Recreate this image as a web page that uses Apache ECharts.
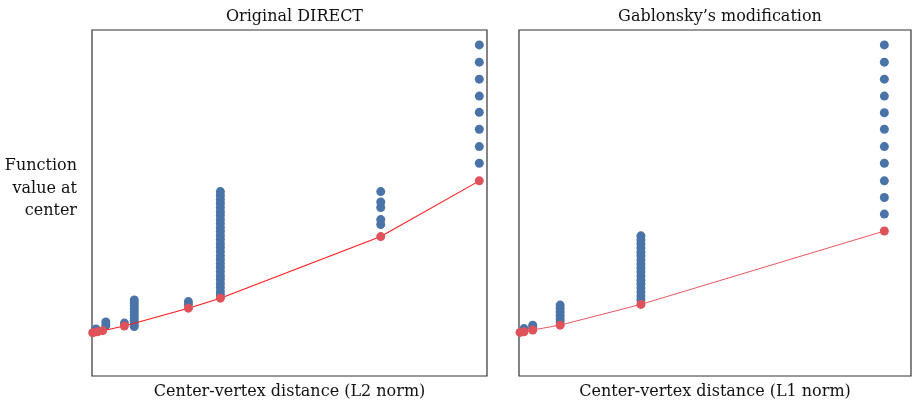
<!DOCTYPE html>
<html>
<head>
<meta charset="utf-8">
<script src="https://cdn.jsdelivr.net/npm/echarts@6/dist/echarts.min.js"></script>
<style>html,body{margin:0;padding:0;background:#fff}#c{width:912px;height:403px}</style>
</head>
<body>
<div id="c"></div>
<script>
// Left panel: Original DIRECT (L2 norm), relative units 0-100
var leftBlueX = [1.0, 3.5, 3.5, 8.2,
  10.7, 10.7, 10.7, 10.7, 10.7, 10.7, 10.7, 10.7, 10.7, 10.7,
  24.4, 24.4,
  32.5, 32.5, 32.5, 32.5, 32.5, 32.5, 32.5, 32.5, 32.5, 32.5, 32.5, 32.5, 32.5, 32.5,
  32.5, 32.5, 32.5, 32.5, 32.5, 32.5, 32.5, 32.5, 32.5, 32.5, 32.5, 32.5, 32.5,
  73.1, 73.1, 73.1, 73.1, 73.1,
  98.05, 98.05, 98.05, 98.05, 98.05, 98.05, 98.05, 98.05];
var leftBlueY = [13.6, 15.6, 14.6, 15.3,
  22.0, 21.1, 20.2, 19.4, 18.5, 17.6, 16.8, 15.9, 15.0, 14.3,
  21.5, 20.7,
  53.3, 52.2, 51.0, 49.9, 48.7, 47.5, 46.4, 45.2, 44.1, 42.9, 41.8, 40.6, 39.5, 38.3,
  37.2, 36.0, 34.8, 33.7, 32.5, 31.4, 30.2, 29.0, 27.9, 26.7, 25.6, 24.4, 23.4,
  53.3, 50.3, 48.7, 45.2, 43.8,
  95.7, 90.7, 85.8, 80.9, 76.2, 71.3, 66.3, 61.5];
var leftRedX = [0.18, 1.39, 2.71, 8.18, 24.4, 32.5, 73.1, 98.05];
var leftRedY = [12.5, 12.8, 13.1, 14.45, 19.6, 22.5, 40.3, 56.4];

// Right panel: Gablonsky's modification (L1 norm)
var rightBlueX = [1.28, 3.5, 3.5,
  10.5, 10.5, 10.5, 10.5, 10.5, 10.5,
  31.1, 31.1, 31.1, 31.1, 31.1, 31.1, 31.1, 31.1, 31.1, 31.1, 31.1, 31.1, 31.1, 31.1, 31.1, 31.1, 31.1,
  93.2, 93.2, 93.2, 93.2, 93.2, 93.2, 93.2, 93.2, 93.2, 93.2, 93.2];
var rightBlueY = [13.7, 14.7, 14.0,
  20.5, 19.5, 18.5, 17.5, 16.5, 15.6,
  40.5, 39.3, 38.2, 37.0, 35.8, 34.7, 33.5, 32.4, 31.2, 30.1, 28.9, 27.7, 26.6, 25.4, 24.3, 23.1, 22.0,
  95.7, 90.7, 85.8, 80.9, 76.1, 71.3, 66.3, 61.5, 56.4, 51.6, 46.8];
var rightRedX = [0.26, 1.28, 3.5, 10.5, 31.1, 93.2];
var rightRedY = [12.6, 12.8, 13.3, 14.7, 20.7, 41.9];

var titles = ['Original DIRECT', 'Gablonsky\u2019s modification'];
var xNames = ['Center-vertex distance (L2 norm)', 'Center-vertex distance (L1 norm)'];
var yName = 'Function\nvalue at\ncenter';

function zip(a, b) { return a.map(function (v, i) { return [v, b[i]]; }); }

var FONT = 'DejaVu Serif';
var FS = 16;
var BLUE = '#4a74a8';
var RED = '#e0525a';

var chart = echarts.init(document.getElementById('c'), null, {renderer: 'canvas'});
function axisX(i) {
  return {gridIndex: i, type: 'value', min: 0, max: 100, axisLine: {show: false}, axisTick: {show: false},
    axisLabel: {show: false}, splitLine: {show: false},
    name: xNames[i], nameLocation: 'middle', nameGap: 8,
    nameTextStyle: {fontFamily: FONT, fontSize: FS, color: '#111', verticalAlign: 'top'}};
}
function axisY(i) {
  return {gridIndex: i, type: 'value', min: 0, max: 100, axisLine: {show: false}, axisTick: {show: false},
    axisLabel: {show: false}, splitLine: {show: false}};
}
chart.setOption({
  animation: false,
  title: [
    {text: titles[0], left: 289.5, top: 4, textAlign: 'center', textStyle: {fontFamily: FONT, fontSize: FS, fontWeight: 'normal', color: '#111'}},
    {text: titles[1], left: 715, top: 4, textAlign: 'center', textStyle: {fontFamily: FONT, fontSize: FS, fontWeight: 'normal', color: '#111'}}
  ],
  graphic: [{type: 'text', x: 77, y: 155, style: {text: yName, align: 'right', verticalAlign: 'top', lineHeight: 22.5,
    font: FS + 'px "DejaVu Serif"', fill: '#111'}}],
  grid: [
    {left: 92, top: 30, width: 395, height: 346, show: true, borderColor: '#333', borderWidth: 1.2, backgroundColor: '#fff', outerBoundsMode: 'none', containLabel: false},
    {left: 519, top: 30, width: 392, height: 346, show: true, borderColor: '#333', borderWidth: 1.2, backgroundColor: '#fff', outerBoundsMode: 'none', containLabel: false}
  ],
  xAxis: [axisX(0), axisX(1)],
  yAxis: [axisY(0), axisY(1)],
  series: [
    {type: 'scatter', xAxisIndex: 0, yAxisIndex: 0, data: zip(leftBlueX, leftBlueY), symbolSize: 9,
      itemStyle: {color: BLUE, opacity: 1}, z: 2},
    {type: 'line', xAxisIndex: 0, yAxisIndex: 0, data: zip(leftRedX, leftRedY), symbol: 'circle', symbolSize: 9,
      showSymbol: true, lineStyle: {color: '#ff1a1a', width: 1.1}, itemStyle: {color: RED, borderWidth: 0}, z: 3},
    {type: 'scatter', xAxisIndex: 1, yAxisIndex: 1, data: zip(rightBlueX, rightBlueY), symbolSize: 9,
      itemStyle: {color: BLUE, opacity: 1}, z: 2},
    {type: 'line', xAxisIndex: 1, yAxisIndex: 1, data: zip(rightRedX, rightRedY), symbol: 'circle', symbolSize: 9,
      showSymbol: true, lineStyle: {color: '#e8585f', width: 1}, itemStyle: {color: RED, borderWidth: 0}, z: 3}
  ]
});
</script>
</body>
</html>
